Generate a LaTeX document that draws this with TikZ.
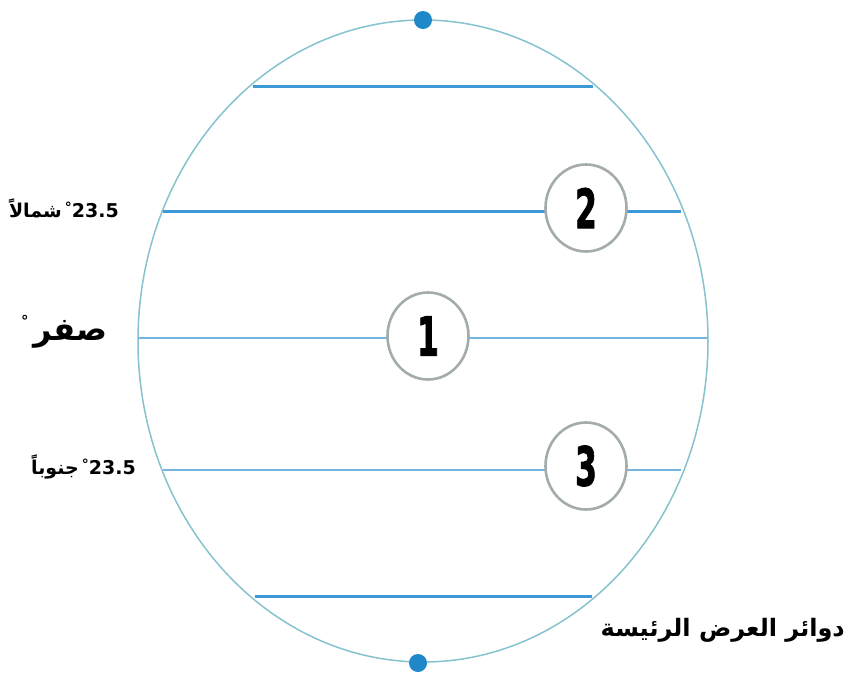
\documentclass[tikz,border=0pt]{standalone}
\usepackage{fontspec}
\usetikzlibrary{shapes.geometric}
\TeXXeTstate=1
\newfontfamily\arabicfont[Script=Arabic]{DejaVu Sans}
\newfontfamily\numfont{DejaVu Sans}
\newfontfamily\digfont[BoldFeatures={FakeBold=2}]{DejaVu Sans}
\definecolor{rimc}{HTML}{86C3CF}
\definecolor{lineb}{HTML}{3E9AD6}
\definecolor{linel}{HTML}{74B6DE}
\definecolor{dotc}{HTML}{1F88C8}
\definecolor{ringc}{HTML}{A3ABAB}
\tikzset{
  numcirc/.style={ellipse, draw=ringc, line width=2.6pt, fill=white, minimum width=81pt, minimum height=87pt, inner sep=0pt,
    font=\digfont\bfseries\fontsize{54}{54}\selectfont},
  boldline/.style={lineb, line width=3pt},
  thinline/.style={linel, line width=1.8pt},
  pole/.style={circle, fill=dotc, minimum size=18pt, inner sep=0pt},
  lab/.style={inner sep=0pt, anchor=east}
}
\newcommand{\cnum}[1]{\scalebox{0.58}[1]{#1}}
\begin{document}
\begin{tikzpicture}[x=1pt,y=-1pt]
\useasboundingbox (0,0) rectangle (847,673);
\fill[white] (0,0) rectangle (847,673);
\draw[rimc, line width=1.5pt] (423,341) ellipse [x radius=285, y radius=321];
% chords
\coordinate (a1) at (253,86);  \coordinate (a2) at (593,86);
\coordinate (b1) at (163,211); \coordinate (b2) at (681,211);
\coordinate (c1) at (138,338); \coordinate (c2) at (708,338);
\coordinate (d1) at (163,470); \coordinate (d2) at (681,470);
\coordinate (e1) at (255,596); \coordinate (e2) at (592,596);
\draw[boldline] (a1) -- (a2);
\draw[boldline] (b1) -- (b2);
\draw[thinline] (c1) -- (c2);
\draw[thinline] (d1) -- (d2);
\draw[boldline] (e1) -- (e2);
% numbered circles
\node[numcirc] (n2) at (586,208) {\cnum{2}};
\node[numcirc] (n1) at (428,336) {\cnum{1}};
\node[numcirc] (n3) at (586,466) {\cnum{3}};
% poles
\node[pole] (np) at (423,20) {};
\node[pole] (sp) at (418,663) {};
% labels
\node[lab, font=\bfseries\fontsize{19}{19}\selectfont] (l1) at (119,208)
  {{\arabicfont\beginR شمالاً\endR}\,{\numfont\raisebox{5pt}{\fontsize{14}{14}\selectfont°}23.5}};
\node[lab, font=\bfseries\fontsize{32}{32}\selectfont] (l0) at (108,332)
  {{\numfont\raisebox{14pt}{\fontsize{15}{15}\selectfont°}}\,{\arabicfont\beginR صفر\endR}};
\node[lab, font=\bfseries\fontsize{19}{19}\selectfont] (l3) at (136,467)
  {{\arabicfont\beginR جنوباً\endR}\,{\numfont\raisebox{5pt}{\fontsize{14}{14}\selectfont°}23.5}};
\node[lab, font=\fontsize{24}{24}\selectfont] (title) at (845,630)
  {\arabicfont\bfseries\beginR دوائر العرض الرئيسة\endR};
\end{tikzpicture}
\end{document}
